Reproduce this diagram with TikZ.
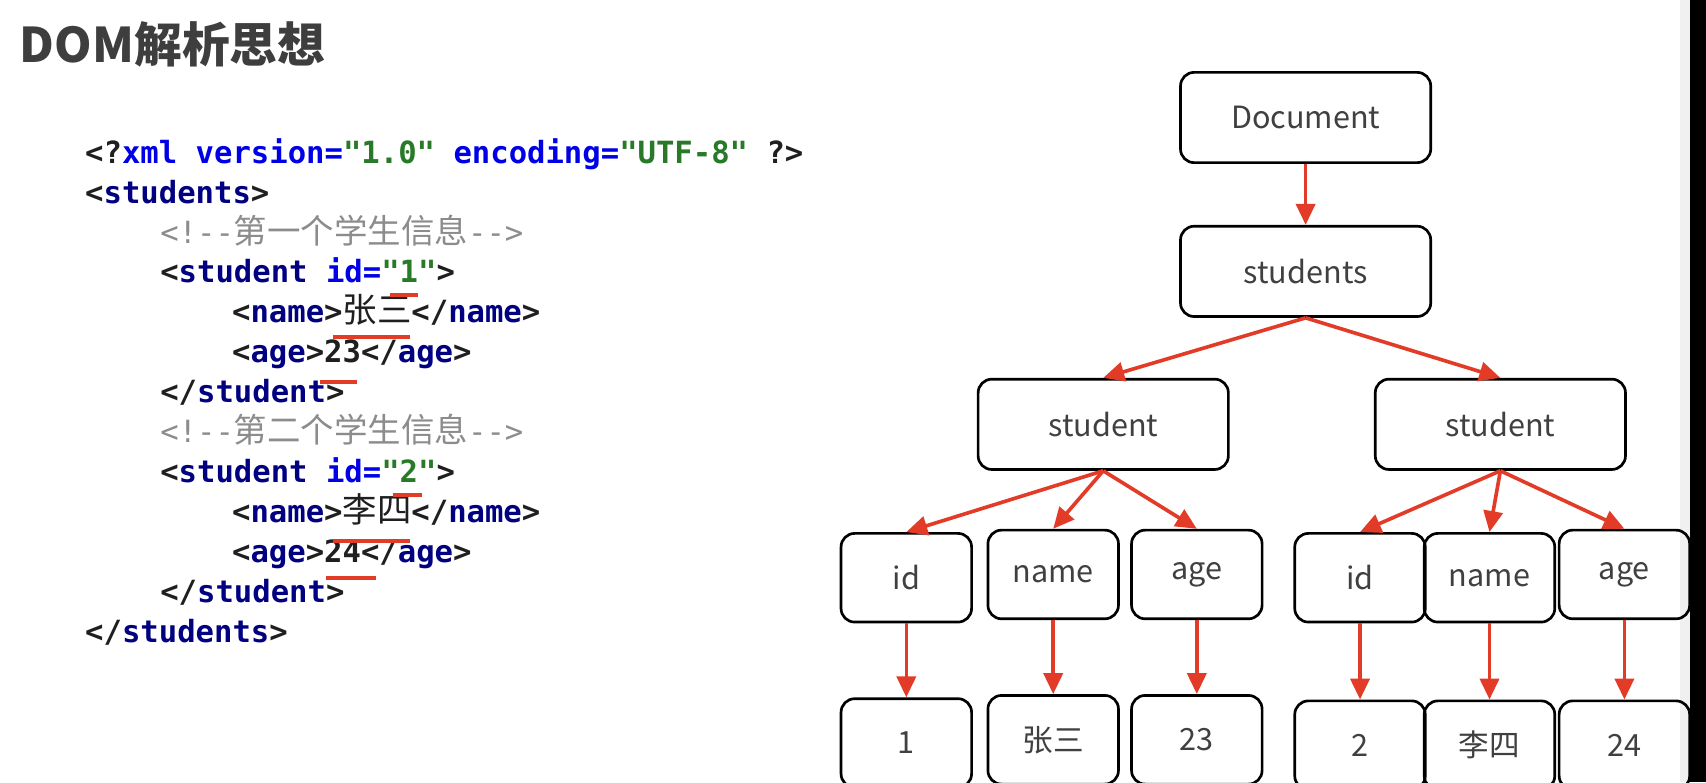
\documentclass[tikz,border=0pt]{standalone}
\usepackage{fontspec}
\setmainfont{Noto Sans CJK SC}
\setmonofont{DejaVu Sans Mono}
\newfontfamily\cjk{Noto Sans CJK SC}
\usetikzlibrary{arrows.meta,positioning}

\definecolor{tagblue}{RGB}{0,0,128}
\definecolor{attrblue}{RGB}{0,0,230}
\definecolor{valgreen}{RGB}{40,122,40}
\definecolor{cmtgrey}{RGB}{140,140,140}
\definecolor{markred}{RGB}{226,60,40}
\definecolor{boxtext}{RGB}{64,64,64}
\definecolor{titlegrey}{RGB}{62,62,62}

\newcommand{\tagname}[1]{\textcolor{tagblue}{#1}}
\newcommand{\attr}[1]{\textcolor{attrblue}{#1}}
\newcommand{\attval}[1]{\textcolor{valgreen}{#1}}
\newcommand{\zh}[2]{{\cjk\mdseries\fontsize{#1}{#1}\selectfont #2}}
\newcommand{\cmt}[1]{\textcolor{cmtgrey}{\mdseries <!-{}-\zh{17.5}{#1}-{}->}}

\begin{document}
\begin{tikzpicture}[x=0.02cm,y=-0.02cm,>={Triangle[length=11pt,width=10pt]},
  codeline/.style={anchor=base west,inner sep=0pt,text=black!88,font={\ttfamily\bfseries\fontsize{16}{16}\selectfont}},
  box/.style={draw,line width=1.4pt,rounded corners=0.25cm,minimum width=4.6cm,minimum height=1.66cm,text=boxtext,font=\fontsize{16}{16}\selectfont},
  leaf/.style={box,minimum width=2.4cm,minimum height=1.63cm},
  link/.style={draw=markred,line width=1.9pt},
  redmark/.style={draw=markred,line width=2.2pt}]

\useasboundingbox (0,0) rectangle (1568,719);
\fill[white] (0,0) rectangle (1568,719);
\fill[black!6] (1544,0) rectangle (1553,719);
\fill[black] (1553,0) rectangle (1568,719);

% title
\node[anchor=base west,inner sep=0pt,text=titlegrey,font={\cjk\bfseries\fontsize{25}{25}\selectfont}] (title) at (18,57) {DOM解析思想};

% xml source
\node[codeline] (l1) at (78,150) {<?\attr{xml version=}\attval{"1.0"} \attr{encoding=}\attval{"UTF-8"} ?>};
\node[codeline] (l2) at (78,186.7) {<\tagname{students}>};
\node[codeline] (l3) at (147,223.4) {\cmt{第一个学生信息}};
\node[codeline] (l4) at (147,260.1) {<\tagname{student} \attr{id=}\attval{"1"}>};
\node[codeline] (l5) at (213,296.8) {<\tagname{name}>\zh{18}{张三}</\tagname{name}>};
\node[codeline] (l6) at (213,333.5) {<\tagname{age}>23</\tagname{age}>};
\node[codeline] (l7) at (147,370.2) {</\tagname{student}>};
\node[codeline] (l8) at (147,406.9) {\cmt{第二个学生信息}};
\node[codeline] (l9) at (147,443.6) {<\tagname{student} \attr{id=}\attval{"2"}>};
\node[codeline] (l10) at (213,480.3) {<\tagname{name}>\zh{18}{李四}</\tagname{name}>};
\node[codeline] (l11) at (213,517) {<\tagname{age}>24</\tagname{age}>};
\node[codeline] (l12) at (147,553.7) {</\tagname{student}>};
\node[codeline] (l13) at (78,590.4) {</\tagname{students}>};

% red marks
\draw[redmark] (358,271) -- (384,271);
\draw[redmark] (306,310) -- (377,310);
\draw[redmark] (294,351) -- (328,351);
\draw[redmark] (361,455) -- (388,455);
\draw[redmark] (306,497) -- (377,497);
\draw[redmark] (300,531) -- (346,531);

% tree
\node[box] (doc) at (1200,108) {Document};
\node[box] (stus) [below=1.12cm of doc] {students};
\node[box] (stuA) at (1014,390) {student};
\node[box] (stuB) at (1379,390) {student};

\node[leaf] (idA) at (833,531) {id};
\node[leaf] (nameA) at (968,528) {name};
\node[leaf] (ageA) at (1100,528) {age};
\node[leaf] (idB) at (1250,531) {id};
\node[leaf] (nameB) at (1369,531) {name};
\node[leaf] (ageB) at (1493,528) {age};

\node[leaf] (v1) [below=1.36cm of idA] {1};
\node[leaf] (vZS) [below=1.36cm of nameA] {张三};
\node[leaf] (v23) [below=1.36cm of ageA] {23};
\node[leaf] (v2) [below=1.4cm of idB] {2};
\node[leaf] (vLS) [below=1.4cm of nameB] {李四};
\node[leaf] (v24) [below=1.46cm of ageB] {24};

\path[->] (doc) edge[link] (stus)
  (stus.south) edge[link] (stuA.north)
               edge[link] (stuB.north)
  (stuA.south) edge[link] (idA.north)
               edge[link] (nameA.north)
               edge[link] (ageA.north)
  (stuB.south) edge[link] (idB.north)
               edge[link] (nameB.north)
               edge[link] (ageB.north)
  (idA) edge[link] (v1)
  (nameA) edge[link] (vZS)
  (ageA) edge[link] (v23)
  (idB) edge[link] (v2)
  (nameB) edge[link] (vLS)
  (ageB) edge[link] (v24);

\end{tikzpicture}
\end{document}
